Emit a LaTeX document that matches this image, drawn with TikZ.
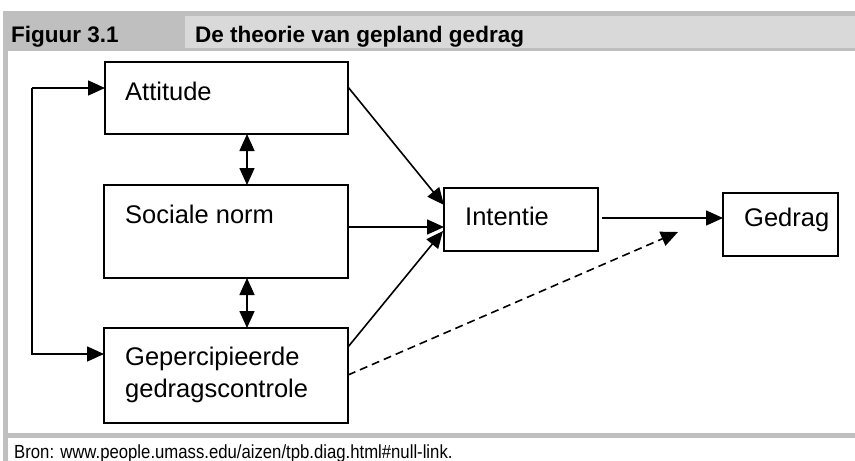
\documentclass[tikz,border=0pt]{standalone}
\usepackage{fontspec}
\setmainfont{Liberation Sans}
\newfontfamily\footfont{Liberation Sans}[FakeStretch=0.88]
\usetikzlibrary{arrows.meta,calc}
\definecolor{frameGray}{HTML}{BFBFBF}
\definecolor{headGray}{HTML}{D9D9D9}
\tikzset{
  box/.style={draw=black, line width=1.8pt, inner sep=0pt, outer sep=0pt, anchor=north west},
  lbl/.style={anchor=base west, inner sep=0pt, font=\fontsize{25.5}{30}\selectfont},
  hdr/.style={anchor=base west, inner sep=0pt, font=\bfseries\fontsize{22.5}{26}\selectfont},
  arr/.style={line width=1.6pt, -{Triangle[length=17pt,width=15pt]}},
  dbl/.style={line width=1.6pt, {Triangle[length=17pt,width=15pt]}-{Triangle[length=17pt,width=15pt]}},
  dsh/.style={arr, dash pattern=on 8pt off 5pt}
}
\begin{document}
\begin{tikzpicture}[x=1pt,y=-1pt]
\useasboundingbox (0,0) rectangle (855,461);
% frame
\fill[frameGray] (3,11) rectangle (855,51);
\fill[headGray] (185,16) rectangle (855,48);
\fill[frameGray] (3,51) rectangle (8,461);
\fill[frameGray] (3,433) rectangle (855,438);
\node[hdr] (figno) at (11,42) {Figuur 3.1};
\node[hdr] (title) at (195,42) {De theorie van gepland gedrag};
\node[anchor=base west, inner sep=0pt, font=\footfont\fontsize{19}{21}\selectfont] (bron) at (14,458) {Bron: www.people.umass.edu/aizen/tpb.diag.html\#null-link.};
% boxes
\node[box, minimum width=243pt, minimum height=72pt] (att) at (105,62) {};
\node[box, minimum width=244pt, minimum height=93pt] (soc) at (104,185) {};
\node[box, minimum width=244pt, minimum height=95pt] (gpc) at (104,328) {};
\node[box, minimum width=154pt, minimum height=63pt] (int) at (444,188) {};
\node[box, minimum width=115pt, minimum height=63pt] (ged) at (723,193) {};
% labels
\node[lbl] (att-t) at (125,100) {Attitude};
\node[lbl] (soc-t) at (125,223) {Sociale norm};
\node[lbl] (gpc-t1) at (125,365) {Gepercipieerde};
\node[lbl] (gpc-t2) at (125,397) {gedragscontrole};
\node[lbl] (int-t) at (465,225) {Intentie};
\node[lbl] (ged-t) at (744,226) {Gedrag};
% helper coordinates
\coordinate (lt) at (32,88);
\coordinate (lb) at (32,354);
\coordinate (vx) at (247,0);
\coordinate (i1) at (444,205);
\coordinate (i2) at (444,227);
\coordinate (i3) at (443,231);
\coordinate (dend) at (678,232);
% connectors
\draw[arr] (lt) -- (att.west |- lt);
\draw[arr] (lt) -- (lb) -- (gpc.west |- lb);
\draw[dbl] (att.south -| vx) -- (soc.north -| vx);
\draw[dbl] (soc.south -| vx) -- (gpc.north -| vx);
\draw[arr] ($(att.north east)+(0,25)$) -- (i1);
\draw[arr] (soc.east |- i2) -- (i2);
\draw[arr] ($(gpc.north east)+(0,19)$) -- (i3);
\draw[dsh] ($(gpc.north east)+(0,47)$) -- (dend);
\draw[arr] ($(int.east)+(4,-1.5)$) -- (ged.west |- 0,218);
\end{tikzpicture}
\end{document}
